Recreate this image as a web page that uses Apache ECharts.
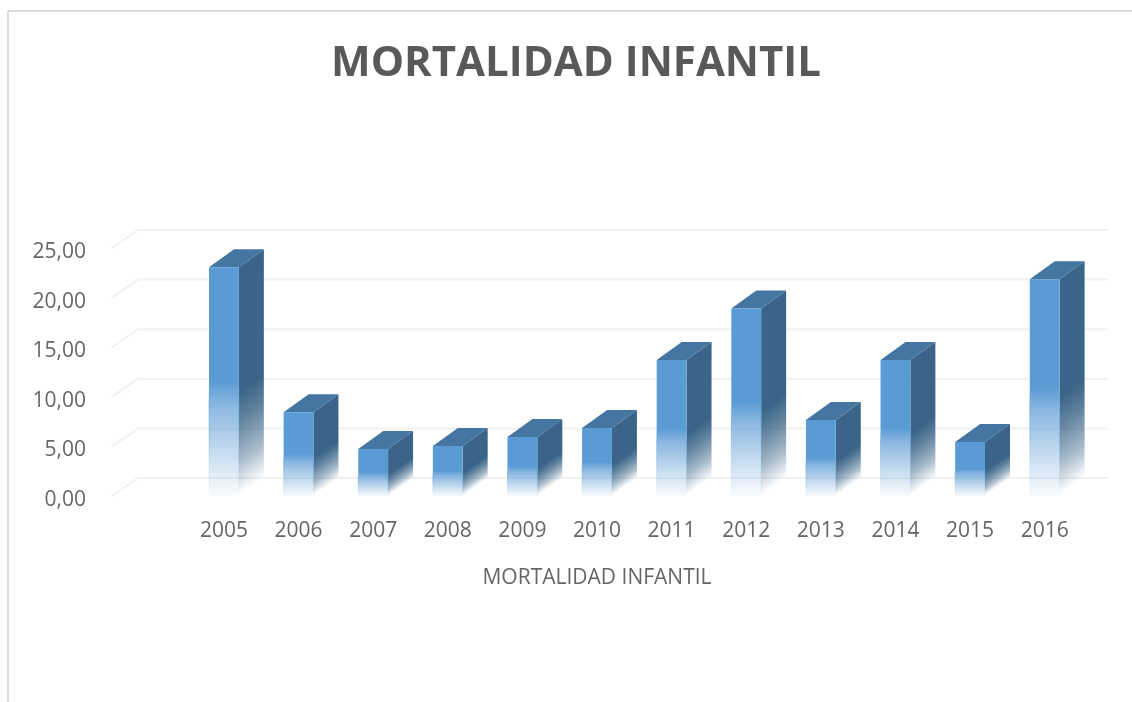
<!DOCTYPE html>
<html>
<head>
<meta charset="utf-8">
<style>
  html, body { margin: 0; padding: 0; background: #fff; }
  #chart { width: 1132px; height: 702px; }
</style>
<script src="https://cdn.jsdelivr.net/npm/echarts@6/dist/echarts.min.js"></script>
</head>
<body>
<div id="chart"></div>
<script>
// the excel chart leaves one empty category before 2005
const categories = ['', '2005', '2006', '2007', '2008', '2009', '2010', '2011', '2012', '2013', '2014', '2015', '2016']
const mortalidad = [23.05, 8.45, 4.75, 5.05, 5.95, 6.85, 13.7, 18.9, 7.65, 13.7, 5.45, 21.85]
const gridValues = [0, 5, 10, 15, 20, 25]

const DEPTH_X = 25
const DEPTH_Y = 18

function fade(color, rgb, stops) {
  const out = [{ offset: 0, color: color }]
  stops.forEach(s => out.push({ offset: s[0], color: 'rgba(' + rgb + ',' + s[1] + ')' }))
  return out
}

function renderWall(params, api) {
  const y = api.coord([0, api.value(0)])[1]
  const x = params.coordSys.x
  const w = params.coordSys.width
  return {
    type: 'polyline',
    silent: true,
    shape: { points: [[x, y], [x + DEPTH_X + 1, y - DEPTH_Y], [x + w + DEPTH_X + 1, y - DEPTH_Y]] },
    style: { fill: 'none', stroke: '#f1f1f1', lineWidth: 2 }
  }
}

function renderBar(params, api) {
  const top = api.coord([api.value(0), api.value(1)])
  const base = api.coord([api.value(0), 0])
  const w = api.size([1, 0])[0] * 0.4
  const x0 = top[0] - w / 2
  const x1 = top[0] + w / 2
  const h = base[1] - top[1]
  const frontFill = {
    type: 'linear', x: 0, y: 0, x2: 0, y2: 1,
    colorStops: fade('#5b9bd5', '91,155,213', [[0.5, 1], [0.6, 0.72], [0.7, 0.54], [0.85, 0.28], [1, 0.03]])
  }
  // side fades along the depth direction, so the gradient is in pixels
  const sideFill = {
    type: 'linear', global: true,
    x: x1, y: top[1], x2: x1 + 0.47 * h, y2: top[1] + 0.66 * h,
    colorStops: fade('#3b6588', '59,101,136', [[0.55, 1], [0.68, 0.8], [0.85, 0.45], [1, 0]])
  }
  const edge = {
    type: 'linear', x: 0, y: 0, x2: 0, y2: 1,
    colorStops: [
      { offset: 0, color: 'rgba(91,155,213,0)' },
      { offset: 0.5, color: 'rgba(91,155,213,0)' },
      { offset: 0.6, color: 'rgba(91,155,213,0.5)' },
      { offset: 1, color: 'rgba(91,155,213,0)' }
    ]
  }
  return {
    type: 'group',
    children: [
      {
        type: 'polygon',
        shape: { points: [[x1, top[1]], [x1 + DEPTH_X, top[1] - DEPTH_Y], [x1 + DEPTH_X, base[1] - DEPTH_Y], [x1, base[1]]] },
        style: { fill: sideFill }
      },
      {
        type: 'polygon',
        shape: { points: [[x0, top[1]], [x0 + DEPTH_X, top[1] - DEPTH_Y], [x1 + DEPTH_X, top[1] - DEPTH_Y], [x1, top[1]]] },
        style: { fill: '#4575a1' }
      },
      {
        type: 'rect',
        shape: { x: x0, y: top[1], width: w, height: h },
        style: { fill: frontFill, stroke: edge, lineWidth: 1 }
      }
    ]
  }
}

const chart = echarts.init(document.getElementById('chart'))
chart.setOption({
  animation: false,
  backgroundColor: '#fff',
  textStyle: { fontFamily: 'Open Sans' },
  title: {
    text: 'MORTALIDAD INFANTIL',
    left: 571,
    top: 38,
    textAlign: 'center',
    textStyle: { fontFamily: 'Open Sans', fontSize: 42, fontWeight: 'bold', color: '#595959' }
  },
  graphic: [
    { type: 'line', silent: true, shape: { x1: 8, y1: 11, x2: 1132, y2: 11 }, style: { stroke: '#dcdcdc', lineWidth: 2 } },
    { type: 'line', silent: true, shape: { x1: 8, y1: 11, x2: 8, y2: 702 }, style: { stroke: '#dcdcdc', lineWidth: 2 } }
  ],
  grid: { left: 112, top: 248, width: 970, height: 248, containLabel: false },
  xAxis: {
    type: 'category',
    data: categories,
    axisLine: { show: false },
    axisTick: { show: false },
    axisLabel: { fontSize: 21, color: '#666', margin: 25, interval: 0 },
    name: 'MORTALIDAD INFANTIL',
    nameLocation: 'middle',
    nameGap: 72,
    nameTextStyle: { fontSize: 21, color: '#666' }
  },
  yAxis: {
    type: 'value',
    min: 0,
    max: 25,
    interval: 5,
    axisLine: { show: false },
    axisTick: { show: false },
    splitLine: { show: false },
    axisLabel: {
      fontSize: 21,
      color: '#666',
      margin: 26,
      verticalAlign: 'top',
      lineHeight: 8,
      formatter: function(v) { return v.toFixed(2).replace('.', ',') }
    }
  },
  series: [
    {
      type: 'custom',
      z: 1,
      silent: true,
      renderItem: renderWall,
      encode: { y: 0 },
      data: gridValues.map(v => [v])
    },
    {
      type: 'custom',
      z: 2,
      renderItem: renderBar,
      encode: { x: 0, y: 1 },
      data: mortalidad.map((v, i) => [i + 1, v])
    }
  ]
})
</script>
</body>
</html>
